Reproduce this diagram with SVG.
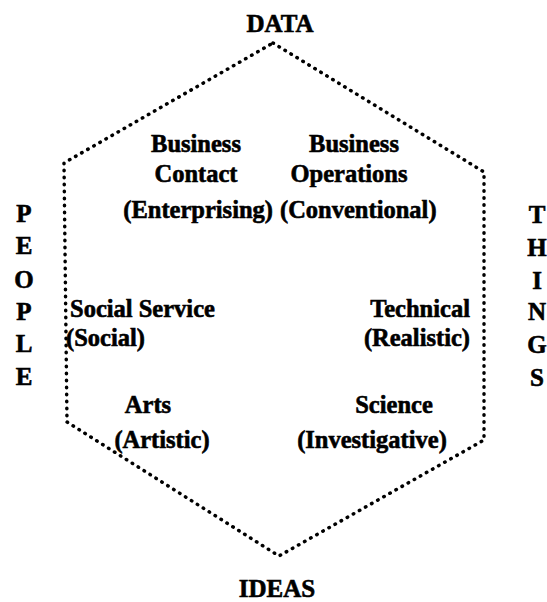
<svg xmlns="http://www.w3.org/2000/svg" width="547" height="602" viewBox="0 0 547 602">
<style>
text{font-family:"Liberation Serif","Times New Roman",serif;font-weight:bold;fill:#000;stroke:#000;stroke-width:0.6}
.lab{font-size:24.5px}
.big{font-size:25px}
.mid{text-anchor:middle}
.end{text-anchor:end}
.hex{fill:none;stroke:#000;stroke-width:3.5;stroke-linecap:round;stroke-linejoin:round;stroke-dasharray:0.5 6.5}
</style>
<rect width="547" height="602" fill="#fff"/>
<g id="connectors">
<polygon class="hex" points="273,43 484,172 484,440 279,556 67,422 64,163"/>
</g>
<g id="data"><text class="big mid" x="280" y="32">DATA</text></g>
<g id="ideas"><text class="big mid" x="277" y="597">IDEAS</text></g>
<g id="people">
<text class="big mid" x="24" y="222">P</text>
<text class="big mid" x="24" y="254">E</text>
<text class="big mid" x="24" y="288">O</text>
<text class="big mid" x="24" y="320">P</text>
<text class="big mid" x="24" y="352">L</text>
<text class="big mid" x="24" y="385">E</text>
</g>
<g id="things">
<text class="big mid" x="537" y="223">T</text>
<text class="big mid" x="537" y="256">H</text>
<text class="big mid" x="537" y="289">I</text>
<text class="big mid" x="537" y="320">N</text>
<text class="big mid" x="537" y="353">G</text>
<text class="big mid" x="537" y="386">S</text>
</g>
<g id="enterprising">
<text class="lab mid" x="196" y="152">Business</text>
<text class="lab mid" x="196" y="182">Contact</text>
<text class="lab end" x="273" y="218">(Enterprising)</text>
</g>
<g id="conventional">
<text class="lab mid" x="354" y="152">Business</text>
<text class="lab mid" x="349" y="182">Operations</text>
<text class="lab" x="280" y="218">(Conventional)</text>
</g>
<g id="social">
<text class="lab" x="70" y="317">Social Service</text>
<text class="lab" x="66" y="346">(Social)</text>
</g>
<g id="realistic">
<text class="lab end" x="470" y="317">Technical</text>
<text class="lab end" x="470" y="346">(Realistic)</text>
</g>
<g id="artistic">
<text class="lab mid" x="148" y="413">Arts</text>
<text class="lab mid" x="162" y="448">(Artistic)</text>
</g>
<g id="investigative">
<text class="lab mid" x="394" y="413">Science</text>
<text class="lab mid" x="372" y="448">(Investigative)</text>
</g>
</svg>
